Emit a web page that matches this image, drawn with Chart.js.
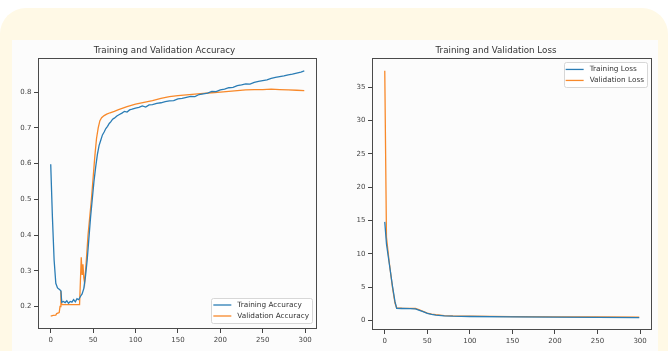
<!DOCTYPE html>
<html>
<head>
<meta charset="utf-8">
<script src="https://cdn.jsdelivr.net/npm/chart.js@4.4.0/dist/chart.umd.min.js"></script>
<style>
  html, body { margin: 0; padding: 0; background: #fff; width: 668px; height: 351px; overflow: hidden; }
  #panel { position: absolute; left: 0; top: 8px; width: 668px; height: 380px; background: #fff9e6; border-radius: 26px; }
  #figure { position: absolute; left: 12px; top: 40px; width: 646px; height: 311px; background: #fcfcfc; }
  canvas { position: absolute; top: 40px; }
  #accChart { left: 12px; }
  #lossChart { left: 340px; }
</style>
</head>
<body>
<div id="panel"></div>
<div id="figure"></div>
<canvas id="accChart" width="320" height="311"></canvas>
<canvas id="lossChart" width="318" height="311"></canvas>
<script>
// accuracy
const TRAIN_ACC_EPOCHS = [0, 2, 4, 6, 8, 10, 12, 13, 15, 17, 19, 21, 23, 25, 27, 29, 31, 33, 35, 37, 39, 41, 43, 45, 47, 49, 51, 53, 55, 57, 59, 61, 63, 65, 67, 69, 71, 73, 75, 78, 81, 84, 87, 90, 93, 96, 100, 104, 108, 112, 116, 120, 125, 130, 135, 140, 145, 150, 155, 160, 165, 170, 175, 180, 185, 190, 195, 200, 205, 210, 215, 220, 225, 230, 235, 240, 245, 250, 255, 260, 265, 270, 275, 280, 285, 290, 295, 299];
const TRAIN_ACC = [0.598, 0.45, 0.33, 0.265, 0.252, 0.248, 0.244, 0.212, 0.214, 0.211, 0.216, 0.209, 0.214, 0.212, 0.219, 0.213, 0.222, 0.219, 0.228, 0.235, 0.25, 0.285, 0.33, 0.39, 0.45, 0.5, 0.55, 0.59, 0.625, 0.65, 0.665, 0.68, 0.688, 0.698, 0.704, 0.712, 0.717, 0.724, 0.727, 0.733, 0.737, 0.741, 0.746, 0.744, 0.75, 0.752, 0.755, 0.757, 0.761, 0.758, 0.764, 0.765, 0.768, 0.77, 0.773, 0.775, 0.776, 0.781, 0.782, 0.785, 0.788, 0.787, 0.793, 0.795, 0.797, 0.802, 0.801, 0.806, 0.808, 0.812, 0.813, 0.818, 0.82, 0.823, 0.822, 0.827, 0.83, 0.832, 0.834, 0.838, 0.841, 0.843, 0.845, 0.848, 0.85, 0.853, 0.856, 0.859];
const VAL_ACC_EPOCHS = [0, 3, 6, 7, 10, 11, 12, 13, 20, 34, 35, 36, 37, 38, 39, 40, 42, 44, 46, 48, 50, 52, 54, 56, 58, 60, 63, 66, 70, 75, 80, 85, 90, 95, 100, 110, 120, 130, 140, 150, 160, 170, 180, 190, 200, 210, 220, 230, 240, 250, 260, 270, 280, 290, 299];
const VAL_ACC = [0.173, 0.175, 0.176, 0.18, 0.183, 0.2, 0.243, 0.205, 0.205, 0.205, 0.27, 0.338, 0.29, 0.318, 0.28, 0.265, 0.33, 0.4, 0.45, 0.5, 0.56, 0.62, 0.67, 0.7, 0.72, 0.728, 0.734, 0.738, 0.742, 0.746, 0.751, 0.755, 0.759, 0.763, 0.766, 0.771, 0.776, 0.782, 0.787, 0.79, 0.792, 0.794, 0.796, 0.798, 0.8, 0.802, 0.804, 0.806, 0.807, 0.807, 0.808, 0.807, 0.806, 0.805, 0.804];

// loss
const LOSS_EPOCHS = [0, 2, 5, 9, 12, 14, 20, 30, 36, 40, 45, 50, 55, 60, 70, 80, 100, 150, 200, 250, 299];
const TRAIN_LOSS = [14.8, 11.5, 8.8, 5.2, 2.8, 1.8, 1.78, 1.75, 1.72, 1.55, 1.3, 1.05, 0.9, 0.8, 0.68, 0.62, 0.58, 0.52, 0.48, 0.44, 0.42];
const VAL_LOSS = [37.5, 12.5, 9.0, 5.0, 2.6, 1.85, 1.82, 1.8, 1.78, 1.6, 1.35, 1.1, 0.95, 0.85, 0.72, 0.66, 0.62, 0.56, 0.52, 0.5, 0.48];

const EPOCH_TICKS = [0, 50, 100, 150, 200, 250, 300];
const ACC_TICKS = [0.2, 0.3, 0.4, 0.5, 0.6, 0.7, 0.8];
const LOSS_TICKS = [0, 5, 10, 15, 20, 25, 30, 35];

const BLUE = '#2b7db5';
const ORANGE = '#f8892a';
const FONT = '"DejaVu Sans", sans-serif';

function points(xs, ys) {
  return xs.map((x, i) => ({ x, y: ys[i] }));
}

const framePlugin = {
  id: 'frame',
  afterDatasetsDraw(chart) {
    const a = chart.chartArea;
    const ctx = chart.ctx;
    ctx.save();
    ctx.strokeStyle = '#4a4a4a';
    ctx.lineWidth = 1;
    ctx.strokeRect(Math.round(a.left) + 0.5, Math.round(a.top) + 0.5,
      Math.round(a.right - a.left) - 1, Math.round(a.bottom - a.top) - 1);
    ctx.restore();
  },
};

const boxLegend = {
  id: 'boxLegend',
  afterDraw(chart, args, opts) {
    const a = chart.chartArea;
    const ctx = chart.ctx;
    const sets = chart.data.datasets;
    ctx.save();
    ctx.font = '7.3px ' + FONT;
    const textW = Math.max(...sets.map(d => ctx.measureText(d.label).width));
    const rowH = 11;
    const w = 26 + textW + 3;
    const h = sets.length * rowH + 3;
    const x = a.right - 5 - w;
    const y = opts.corner === 'top' ? a.top + 4 : a.bottom - 6 - h;
    ctx.globalAlpha = 0.85;
    ctx.fillStyle = '#fff';
    ctx.strokeStyle = '#d0d0d0';
    ctx.lineWidth = 1;
    ctx.beginPath();
    ctx.roundRect(Math.round(x) + 0.5, Math.round(y) + 0.5, Math.round(w), Math.round(h), 2);
    ctx.fill();
    ctx.stroke();
    ctx.globalAlpha = 1;
    sets.forEach((d, i) => {
      const cy = y + 7 + i * rowH;
      ctx.strokeStyle = d.borderColor;
      ctx.lineWidth = 1.3;
      ctx.beginPath();
      ctx.moveTo(x + 2, cy);
      ctx.lineTo(x + 20, cy);
      ctx.stroke();
      ctx.fillStyle = '#333';
      ctx.textBaseline = 'middle';
      ctx.fillText(d.label, x + 26, cy);
    });
    ctx.restore();
  },
};

function axis(min, max, ticks, size, fmt) {
  return {
    type: 'linear',
    min,
    max,
    afterBuildTicks(scale) { scale.ticks = ticks.map(v => ({ value: v })); },
    afterFit(scale) {
      if (scale.isHorizontal()) scale.height = size; else scale.width = size;
    },
    grid: { drawOnChartArea: false, drawTicks: true, tickLength: 4, color: '#444' },
    border: { display: false },
    ticks: {
      font: { family: FONT, size: 7 },
      color: '#444',
      padding: 2.5,
      maxRotation: 0,
      autoSkip: false,
      callback: fmt,
    },
  };
}

function makeChart(id, opts) {
  return new Chart(document.getElementById(id), {
    type: 'line',
    data: {
      datasets: [
        { label: opts.labels[0], data: opts.train, borderColor: BLUE, borderWidth: 1.3, pointRadius: 0, tension: 0 },
        { label: opts.labels[1], data: opts.val, borderColor: ORANGE, borderWidth: 1.3, pointRadius: 0, tension: 0 },
      ],
    },
    options: {
      responsive: false,
      animation: false,
      layout: { padding: { left: 0, right: opts.padRight, top: 0, bottom: 0 } },
      plugins: {
        legend: { display: false },
        tooltip: { enabled: false },
        title: {
          display: true,
          text: opts.title,
          color: '#333',
          font: { family: FONT, size: 8.7, weight: 'normal' },
          padding: { top: 6, bottom: 2 },
        },
        boxLegend: { corner: opts.corner },
      },
      scales: {
        x: axis(-15, 314, EPOCH_TICKS, opts.xAxisH, v => String(v)),
        y: axis(opts.yMin, opts.yMax, opts.yTicks, opts.yAxisW, opts.yFmt),
      },
    },
    plugins: [framePlugin, boxLegend],
  });
}

makeChart('accChart', {
  title: 'Training and Validation Accuracy',
  labels: ['Training Accuracy', 'Validation Accuracy'],
  train: points(TRAIN_ACC_EPOCHS, TRAIN_ACC),
  val: points(VAL_ACC_EPOCHS, VAL_ACC),
  yMin: 0.137, yMax: 0.894, yTicks: ACC_TICKS,
  yFmt: v => v.toFixed(1),
  yAxisW: 26, xAxisH: 22, padRight: 15, corner: 'bottom',
});

makeChart('lossChart', {
  title: 'Training and Validation Loss',
  labels: ['Training Loss', 'Validation Loss'],
  train: points(LOSS_EPOCHS, TRAIN_LOSS),
  val: points(LOSS_EPOCHS, VAL_LOSS),
  yMin: -1.45, yMax: 39.35, yTicks: LOSS_TICKS,
  yFmt: v => String(v),
  yAxisW: 32, xAxisH: 21, padRight: 6, corner: 'top',
});
</script>
</body>
</html>
